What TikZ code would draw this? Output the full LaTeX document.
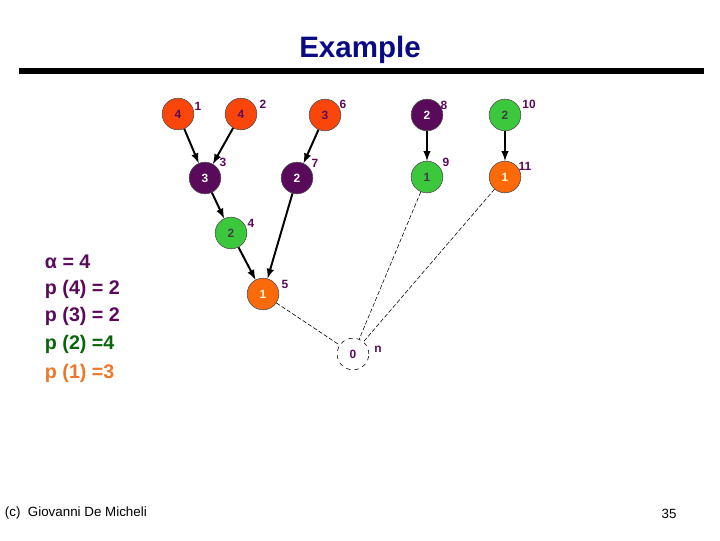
\documentclass[tikz,border=0pt]{standalone}
\usepackage{fontspec}
\setmainfont{Liberation Sans}
\usepackage{xcolor}
\usepackage{tikz}
\usetikzlibrary{calc, positioning}

\definecolor{redor}{RGB}{250,70,10}
\definecolor{purp}{RGB}{90,10,90}
\definecolor{grn}{RGB}{60,200,60}
\definecolor{orng}{RGB}{250,105,10}
\definecolor{titleblue}{RGB}{10,10,130}
\definecolor{dgreen}{RGB}{10,100,10}
\definecolor{txtorange}{RGB}{235,120,40}

\tikzset{
    vtx/.style={circle, draw=black!70, minimum size=22.5pt, inner sep=0pt, font=\bfseries\fontsize{8.5}{10}\selectfont},
    vred/.style={vtx, fill=redor, text=purp},
    vpur/.style={vtx, fill=purp, text=white},
    vgrn/.style={vtx, fill=grn, text=black!75},
    vorg/.style={vtx, fill=orng, text=yellow!20},
    vsink/.style={vtx, draw=black, dashed, fill=white, text=purp},
    lbl/.style={text=purp, font=\bfseries\fontsize{8.5}{10}\selectfont},
    edg/.style={->, >=latex, line width=1.4pt},
    dsh/.style={thin, dash pattern=on 3pt off 1.5pt},
    eqn/.style={anchor=west, font=\bfseries\fontsize{14}{16}\selectfont}
}

\begin{document}
\begin{tikzpicture}[x=0.025cm, y=-0.025cm]
    \useasboundingbox (0,0) rectangle (720,540);

    % 1. Tieu de
    \node[text=titleblue, font=\bfseries\fontsize{21}{24}\selectfont] (title) at (360,50) {Example};
    \draw[line width=4.3pt] (19,71) -- (704,71);

    % 2. Cac dinh
    \node[vred] (v1) at (178,114) {4};
    \node[vred] (v2) at (241,114) {4};
    \node[vred] (v6) at (325,115) {3};
    \node[vpur] (v8) at (427,115) {2};
    \node[vgrn] (v10) at (505,115) {2};
    \node[vpur] (v3) at (205,178) {3};
    \node[vpur] (v7) at (297,178) {2};
    \node[vgrn] (v9) at (427,177) {1};
    \node[vorg] (v11) at (505,177) {1};
    \node[vgrn] (v4) at (231,233) {2};
    \node[vorg] (v5) at (263,294) {1};
    \node[vsink] (vn) at (353,354) {0};

    % Nhan cua dinh
    \node[lbl] (l1) at (198,106) {1};
    \node[lbl] (l2) at (263,104) {2};
    \node[lbl] (l6) at (343,104) {6};
    \node[lbl] (l8) at (444,105) {8};
    \node[lbl] (l10) at (529,104) {10};
    \node[lbl] (l3) at (223,162) {3};
    \node[lbl] (l7) at (315,163) {7};
    \node[lbl] (l9) at (446,162) {9};
    \node[lbl] (l11) at (525,166) {11};
    \node[lbl] (l4) at (251,223) {4};
    \node[lbl] (l5) at (285,284) {5};
    \node[lbl] (ln) at (378,349) {n};

    % 3. Cac canh
    \draw[edg] (v1) -- (v3);
    \draw[edg] (v2) -- (v3);
    \draw[edg] (v6) -- (v7);
    \draw[edg] (v3) -- (v4);
    \draw[edg] (v4) -- (v5);
    \draw[edg] (v7) -- (v5);
    \draw[edg] (v8) -- (v9);
    \draw[edg] (v10) -- (v11);

    % Canh net dut toi dinh cuoi
    \draw[dsh] (v5) -- (vn);
    \draw[dsh] (v9) -- (vn);
    \draw[dsh] (v11) -- (vn);

    % 4. Cong thuc ben trai
    \node[eqn, text=purp] (e1) at (40,262) {α = 4};
    \node[eqn, text=purp] (e2) at (40,289) {p (4) = 2};
    \node[eqn, text=purp] (e3) at (40,316) {p (3) = 2};
    \node[eqn, text=dgreen] (e4) at (40,344) {p (2) =4};
    \node[eqn, text=txtorange] (e5) at (40,373) {p (1) =3};

    % 5. Chan trang
    \node[anchor=west, font=\fontsize{9.5}{11}\selectfont] (foot) at (0,513) {(c)\ \ Giovanni De Micheli};
    \node[font=\fontsize{9.5}{11}\selectfont] (page) at (669,514) {35};
\end{tikzpicture}
\end{document}
